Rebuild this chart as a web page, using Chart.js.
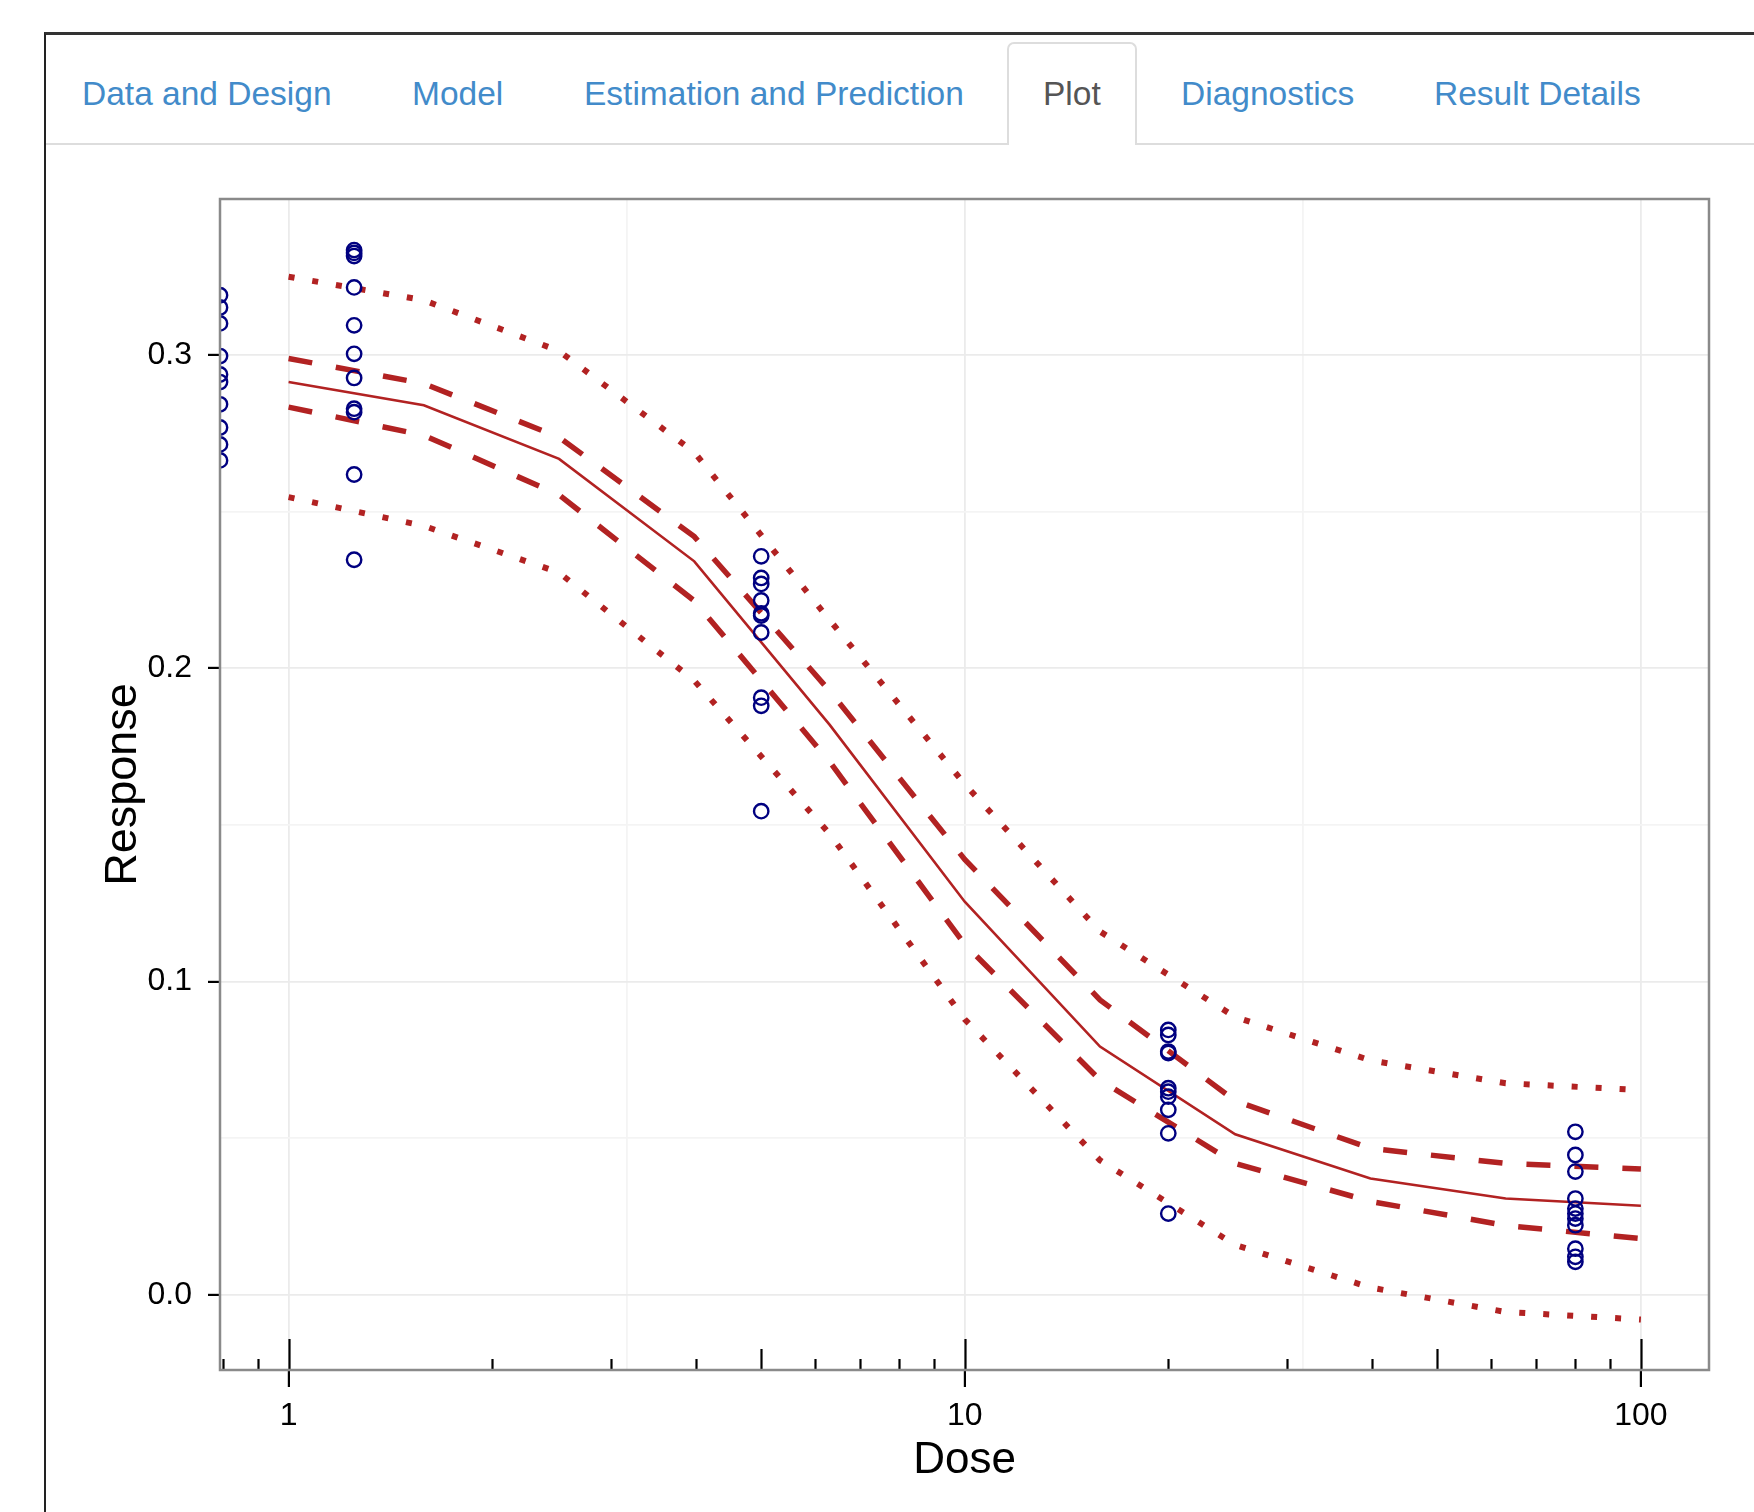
<!DOCTYPE html>
<html>
<head>
<meta charset="utf-8">
<title>Plot</title>
<script src="https://cdn.jsdelivr.net/npm/chart.js@4.4.1/dist/chart.umd.min.js"></script>
<style>
  html, body { margin: 0; padding: 0; background: #fff; }
  body {
    width: 1754px; height: 1512px; position: relative; overflow: hidden;
    font-family: "Liberation Sans", Arial, Helvetica, sans-serif;
  }
  #frame {
    position: absolute; left: 44px; top: 32px; right: 0; bottom: 0;
    border-left: 2px solid #222; border-top: 3px solid #333;
  }
  #tabline { position: absolute; left: 46px; right: 0; top: 143px; height: 2px; background: #ddd; }
  #active {
    position: absolute; left: 1007px; top: 42px; width: 130px; height: 103px;
    box-sizing: border-box; background: #fff;
    border: 2px solid #ddd; border-bottom: none; border-radius: 7px 7px 0 0;
  }
  .tab {
    position: absolute; top: 77px; font-size: 33.5px; line-height: 34px;
    color: #428bca; white-space: nowrap;
  }
  .tab.on { color: #555; }
  #chartBox { position: absolute; left: 47px; top: 150px; }
</style>
</head>
<body>
<div id="frame"></div>
<div id="tabline"></div>
<div id="active"></div>
<span class="tab" style="left:82px">Data and Design</span>
<span class="tab" style="left:412px">Model</span>
<span class="tab" style="left:584px">Estimation and Prediction</span>
<span class="tab on" style="left:1043px">Plot</span>
<span class="tab" style="left:1181px">Diagnostics</span>
<span class="tab" style="left:1434px">Result Details</span>
<div id="chartBox"><canvas id="plot" width="1707" height="1362"></canvas></div>

<script>
// observed responses, one list per dose group
var doseGroups = [0, 1.25, 5, 20, 80];
var respDose0 = [0.3190, 0.3151, 0.3100, 0.2996, 0.2937, 0.2913, 0.2842, 0.2768, 0.2714, 0.2663];
var respDose1 = [0.3334, 0.3325, 0.3315, 0.3215, 0.3094, 0.3003, 0.2926, 0.2828, 0.2817, 0.2618, 0.2346];
var respDose5 = [0.2357, 0.2288, 0.2269, 0.2216, 0.2175, 0.2168, 0.2114, 0.1906, 0.1880, 0.1544];
var respDose20 = [0.0846, 0.0830, 0.0777, 0.0772, 0.0660, 0.0649, 0.0633, 0.0591, 0.0516, 0.0260];
var respDose80 = [0.0521, 0.0447, 0.0394, 0.0308, 0.0276, 0.0260, 0.0244, 0.0223, 0.0148, 0.0122, 0.0106];
var responses = [respDose0, respDose1, respDose5, respDose20, respDose80];

// fitted curve and intervals on the prediction grid
var curveDose = [1, 1.585, 2.512, 3.981, 6.31, 10, 15.85, 25.12, 39.81, 63.1, 100];
var fitMean = [0.2913, 0.2839, 0.2668, 0.2341, 0.1820, 0.1255, 0.0793, 0.0513, 0.0372, 0.0308, 0.0285];
var ciUpper = [0.2988, 0.2908, 0.2737, 0.2420, 0.1928, 0.1390, 0.0942, 0.0620, 0.0468, 0.0420, 0.0402];
var ciLower = [0.2833, 0.2743, 0.2553, 0.2215, 0.1702, 0.1119, 0.0686, 0.0420, 0.0299, 0.0222, 0.0180];
var piUpper = [0.3249, 0.3174, 0.3012, 0.2689, 0.2154, 0.1630, 0.1160, 0.0887, 0.0749, 0.0676, 0.0654];
var piLower = [0.2546, 0.2454, 0.2305, 0.1960, 0.1472, 0.0880, 0.0430, 0.0160, 0.0024, -0.0054, -0.0078];

// axes
var xTicks = [1, 3.1623, 10, 31.623, 100];
var xTickLabels = ['1', '', '10', '', '100'];
var yTicks = [0, 0.05, 0.1, 0.15, 0.2, 0.25, 0.3];
var yTickLabels = ['0.0', '', '0.1', '', '0.2', '', '0.3'];
var X_MIN = 0.7917, X_MAX = 126.1;
var Y_MIN = -0.0239, Y_MAX = 0.3497;

var RED = '#b22222';
var NAVY = '#000080';

// dose 0 has no place on a log axis, it sits on the left edge like ggplot's -Inf
function doseX(d) {
  return d > 0 ? d : X_MIN;
}

var pointData = [];
doseGroups.forEach(function(d, i) {
  responses[i].forEach(function(r) {
    pointData.push({ x: doseX(d), y: r });
  });
});

function curve(values, width, dash) {
  return {
    data: curveDose.map(function(d, i) { return { x: d, y: values[i] }; }),
    showLine: true,
    borderColor: RED,
    borderWidth: width,
    borderDash: dash,
    borderCapStyle: 'butt',
    pointRadius: 0,
    fill: false,
    tension: 0,
    order: 2
  };
}

var panelDecor = {
  id: 'panelDecor',
  afterDraw: function(chart) {
    var ctx = chart.ctx;
    var area = chart.chartArea;
    var xs = chart.scales.x;
    ctx.save();
    // log ticks inside the bottom edge: long at decades, mid at 5, short otherwise
    ctx.strokeStyle = '#000';
    ctx.lineWidth = 2.2;
    [0.1, 1, 10, 100].forEach(function(decade) {
      for (var m = 1; m <= 9; m++) {
        var v = m * decade;
        if (v < X_MIN || v > X_MAX) continue;
        var len = m === 1 ? 31 : (m === 5 ? 21 : 11);
        var px = Math.round(xs.getPixelForValue(v)) + 0.5;
        ctx.beginPath();
        ctx.moveTo(px, area.bottom);
        ctx.lineTo(px, area.bottom - len);
        ctx.stroke();
      }
    });
    ctx.strokeStyle = '#8a8a8a';
    ctx.lineWidth = 2.5;
    ctx.strokeRect(area.left, area.top, area.width, area.height);
    ctx.restore();
  }
};

Chart.defaults.font.family = '"Liberation Sans", Arial, Helvetica, sans-serif';
Chart.defaults.color = '#000';

var ctx = document.getElementById('plot');
var chart = new Chart(ctx, {
  type: 'scatter',
  data: {
    datasets: [
      curve(piUpper, 6, [6, 18]),
      curve(piLower, 6, [6, 18]),
      curve(ciUpper, 5.5, [24, 24]),
      curve(ciLower, 5.5, [24, 24]),
      curve(fitMean, 2.6, []),
      {
        data: pointData,
        pointStyle: 'circle',
        pointRadius: 7.2,
        pointBorderWidth: 2.4,
        borderColor: NAVY,
        pointBorderColor: NAVY,
        backgroundColor: 'rgba(0,0,0,0)',
        pointBackgroundColor: 'rgba(0,0,0,0)',
        showLine: false,
        clip: 0,
        order: 1
      }
    ]
  },
  options: {
    responsive: false,
    animation: false,
    devicePixelRatio: 1,
    layout: { padding: { top: 49, right: 45, left: 0, bottom: 0 } },
    plugins: {
      legend: { display: false },
      tooltip: { enabled: false }
    },
    scales: {
      x: {
        type: 'logarithmic',
        position: 'bottom',
        min: X_MIN,
        max: X_MAX,
        bounds: 'data',
        afterBuildTicks: function(scale) {
          scale.ticks = xTicks.map(function(v) { return { value: v }; });
        },
        afterFit: function(scale) { scale.height = 142; },
        border: { display: false },
        grid: {
          color: function(c) { return c.index % 2 === 0 ? '#ebebeb' : '#f4f4f4'; },
          lineWidth: 1.8,
          tickColor: function(c) { return c.index % 2 === 0 ? '#000' : 'rgba(0,0,0,0)'; },
          tickLength: 17,
          tickWidth: 2.2
        },
        ticks: {
          autoSkip: false,
          maxRotation: 0,
          padding: 10,
          font: { size: 32 },
          color: '#000',
          callback: function(v, i) { return xTickLabels[i]; }
        },
        title: {
          display: true,
          text: 'Dose',
          color: '#000',
          font: { size: 44 },
          padding: { top: 0, bottom: 25 }
        }
      },
      y: {
        type: 'linear',
        min: Y_MIN,
        max: Y_MAX,
        bounds: 'data',
        afterBuildTicks: function(scale) {
          scale.ticks = yTicks.map(function(v) { return { value: v }; });
        },
        afterFit: function(scale) { scale.width = 173; },
        border: { display: false },
        grid: {
          color: function(c) { return c.index % 2 === 0 ? '#ebebeb' : '#f4f4f4'; },
          lineWidth: 1.8,
          tickColor: function(c) { return c.index % 2 === 0 ? '#000' : 'rgba(0,0,0,0)'; },
          tickLength: 12,
          tickWidth: 2.2
        },
        ticks: {
          autoSkip: false,
          padding: 16,
          font: { size: 32 },
          color: '#000',
          callback: function(v, i) { return yTickLabels[i]; }
        },
        title: {
          display: true,
          text: 'Response',
          color: '#000',
          font: { size: 45 },
          padding: { top: 50, bottom: 0 }
        }
      }
    }
  },
  plugins: [panelDecor]
});
</script>
</body>
</html>
